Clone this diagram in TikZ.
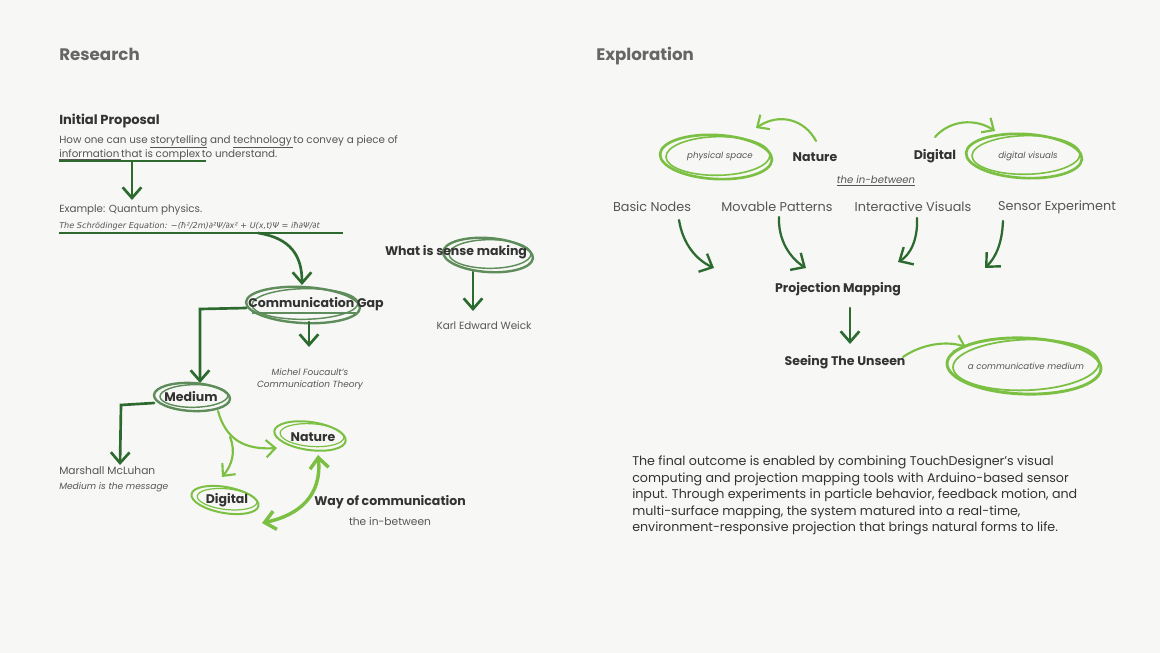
\documentclass[tikz,border=0pt]{standalone}
\usepackage{fontspec}
\setmainfont{Poppins}
\newfontfamily\eqfont{DejaVu Sans}
\usetikzlibrary{arrows.meta}
\definecolor{bg}{HTML}{F7F7F5}
\definecolor{dg}{HTML}{2D6A2F}
\definecolor{mg}{HTML}{5E8C5A}
\definecolor{lg}{HTML}{7CC043}
\definecolor{head}{HTML}{666666}
\definecolor{txt}{HTML}{333333}
\definecolor{sub}{HTML}{555555}
\newcommand\skell[7]{%
  \draw[#1, line width=#7, rotate around={#6:(#2,#3)}] (#2,#3) ellipse [x radius=#4*0.75pt, y radius=#5*0.75pt];
  \draw[#1, line width=0.6*#7, rotate around={#6+4:(#2,#3)}] (#2+2,#3-1) ellipse [x radius=#4*0.75pt-3pt, y radius=#5*0.75pt-2pt];
}
\tikzset{
  x=0.75pt, y=-0.75pt,
  heading/.style={anchor=base west, inner sep=0, text=head, font=\bfseries\fontsize{12.5}{14}\selectfont},
  boldlab/.style={inner sep=0, text=txt, font=\bfseries\fontsize{9.4}{11}\selectfont},
  body/.style={anchor=base west, inner sep=0, text=sub, font=\fontsize{7.75}{9}\selectfont},
  small/.style={inner sep=0, text=sub, font=\itshape\fontsize{6.5}{8}\selectfont},
  rowlab/.style={inner sep=0, text=sub, font=\fontsize{9.6}{11}\selectfont},
  para/.style={anchor=base west, inner sep=0, text=txt, font=\fontsize{9.5}{11}\selectfont},
  darr/.style={draw=dg, line width=2pt, line cap=round, -{Straight Barb[length=8pt,width=14pt,line width=2pt]}},
  darrt/.style={draw=dg, line width=1.7pt, line cap=round, -{Straight Barb[length=8pt,width=15pt,line width=1.8pt]}},
  larr/.style={draw=lg, line width=1.6pt, line cap=round, -{Straight Barb[length=7pt,width=13pt,line width=1.6pt]}},
  dline/.style={draw=dg, line width=1.5pt},
}
\begin{document}
\begin{tikzpicture}
\fill[bg] (0,0) rectangle (1160,653);
\useasboundingbox (0,0) rectangle (1160,653);

% headings
\node[heading] (research) at (59,60) {Research};
\node[heading] (explor) at (596,60) {Exploration};

% proposal
\node[boldlab, anchor=west, font=\bfseries\fontsize{9.8}{11}\selectfont] (ip) at (59,121) {Initial Proposal};
\node[body] (prop1) at (59,143) {How one can use \underline{storytelling} and \underline{technology\,}to convey a piece of};
\node[body] (prop2) at (59,157) {\underline{information\,}that is \underline{complex\,}to understand.};
\coordinate (u1a) at (59,161); \coordinate (u1b) at (206,161);
\draw[dline] (u1a) -- (u1b);
\coordinate (a1s) at (132,162); \coordinate (a1e) at (132,200);
\draw[darr] (a1s) -- (a1e);
\node[body] (ex) at (59,212.5) {Example: Quantum physics.};
\node[body, font=\eqfont\itshape\fontsize{6.1}{8}\selectfont] (eq) at (59,228) {The Schrödinger Equation: −(ħ²/2m)∂²Ψ/∂x² + U(x,t)Ψ = iħ∂Ψ/∂t};
\coordinate (u2a) at (59,233); \coordinate (u2b) at (343,233);
\draw[dline] (u2a) -- (u2b);
\coordinate (a2s) at (258,233); \coordinate (a2e) at (302,285);
\draw[darr] (a2s) .. controls (290,238) and (302,255) .. (a2e);

% communication gap
\skell{mg}{303}{305}{57}{18}{-3}{1.8pt}
\node[boldlab] (cg) at (316,304) {Communication Gap};
\coordinate (u3a) at (252,313); \coordinate (u3b) at (356,313);
\draw[mg, line width=1.2pt] (u3a) -- (u3b);
\coordinate (cgl) at (246,308); \coordinate (mdt) at (200,383);
\draw[darr] (cgl) -- (200,309) -- (mdt);
\coordinate (cgb) at (309,322); \coordinate (mft) at (309,347);
\draw[darr] (cgb) -- (mft);
\node[small, align=center, font=\itshape\fontsize{6.7}{9}\selectfont] (mf) at (310,379) {Michel Foucault's\\Communication Theory};

% sense making
\skell{mg}{488}{255}{45}{17}{-4}{1.8pt}
\node[boldlab] (sm) at (456,252) {What is sense making};
\coordinate (smb) at (473,272); \coordinate (kwt) at (473,311);
\draw[darr] (smb) -- (kwt);
\node[rowlab, font=\fontsize{7.8}{9}\selectfont] (kw) at (484,326) {Karl Edward Weick};

% medium
\skell{mg}{192}{397}{38}{14}{-3}{1.8pt}
\node[boldlab] (md) at (191,397) {Medium};
\coordinate (mdl) at (154,403); \coordinate (mmt) at (120,465);
\draw[darr] (mdl) -- (121,405) -- (mmt);
\node[body, font=\fontsize{8}{9}\selectfont] (mm) at (59,474) {Marshall McLuhan};
\node[small, anchor=base west, font=\itshape\fontsize{6.8}{8}\selectfont] (mmq) at (59,489) {Medium is the message};

% nature / digital (left)
\skell{lg}{310}{436}{36}{14}{-8}{1.5pt}
\node[boldlab] (nl) at (313,437) {Nature};
\skell{lg}{225}{500}{34}{13}{-10}{1.5pt}
\node[boldlab] (dl) at (227,500) {Digital};
\coordinate (mdb) at (218,411); \coordinate (nll) at (277,448);
\draw[larr] (mdb) .. controls (226,440) and (245,450) .. (nll);
\coordinate (br) at (230,437); \coordinate (dlt) at (222,477);
\draw[larr] (br) .. controls (236,452) and (232,465) .. (dlt);
\coordinate (nlb) at (318,455); \coordinate (dlr) at (262,523);
\draw[draw=lg, line width=2.6pt, {Straight Barb[length=8pt,width=14pt,line width=2.6pt]}-{Straight Barb[length=8pt,width=14pt,line width=2.6pt]}] (nlb) .. controls (322,495) and (300,515) .. (dlr);
\node[boldlab] (woc) at (390,502) {Way of communication};
\node[rowlab, font=\fontsize{8}{9}\selectfont] (ib) at (390,521) {the in-between};

% exploration top
\skell{lg}{716}{157}{56}{22}{-3}{2pt}
\node[small] (ps) at (720,156) {physical space};
\node[boldlab] (nr) at (815,157) {Nature};
\coordinate (nrt) at (816,141); \coordinate (pst) at (756,128);
\draw[larr] (nrt) .. controls (805,120) and (780,112) .. (pst);
\node[boldlab] (dr) at (935,156) {Digital};
\coordinate (drt) at (935,137); \coordinate (dvt) at (995,131);
\draw[larr] (drt) .. controls (950,120) and (975,118) .. (dvt);
\skell{lg}{1024}{156}{58}{22}{-3}{2pt}
\node[small] (dv) at (1028,156) {digital visuals};
\node[small, font=\itshape\fontsize{7.6}{9}\selectfont] (ibr) at (876,181) {\underline{the in-between}};

% row
\node[rowlab] (bn) at (652,207) {Basic Nodes};
\node[rowlab] (mp) at (777,207) {Movable Patterns};
\node[rowlab] (iv) at (913,207) {Interactive Visuals};
\node[rowlab] (se) at (1057,207) {Sensor Experiment};
\coordinate (bnb) at (679,220); \coordinate (pm1) at (714,268);
\coordinate (mpb) at (779,217); \coordinate (pm2) at (806,268);
\coordinate (ivb) at (917,218); \coordinate (pm3) at (898,262);
\coordinate (seb) at (1003,221); \coordinate (pm4) at (985,268);
\draw[darrt] (bnb) .. controls (683,245) and (697,260) .. (pm1);
\draw[darrt] (mpb) .. controls (778,240) and (790,258) .. (pm2);
\draw[darrt] (ivb) .. controls (918,240) and (910,255) .. (pm3);
\draw[darrt] (seb) .. controls (1002,245) and (995,258) .. (pm4);

\node[boldlab] (pm) at (838,289) {Projection Mapping};
\coordinate (pmb) at (850,308); \coordinate (stt) at (850,344);
\draw[darr] (pmb) -- (stt);
\node[boldlab] (st) at (845,362) {Seeing The Unseen};
\coordinate (str) at (903,357); \coordinate (cmt) at (966,347);
\draw[larr] (str) .. controls (920,345) and (945,340) .. (cmt);
\skell{lg}{1024}{366}{77}{28}{-2}{2.2pt}
\node[small] (cm) at (1026,366) {a communicative medium};

% paragraph
\node[para] (p1) at (632,465) {The final outcome is enabled by combining TouchDesigner’s visual};
\node[para] (p2) at (632,482) {computing and projection mapping tools with Arduino-based sensor};
\node[para] (p3) at (632,498) {input. Through experiments in particle behavior, feedback motion, and};
\node[para] (p4) at (632,515) {multi-surface mapping, the system matured into a real-time,};
\node[para] (p5) at (632,531) {environment-responsive projection that brings natural forms to life.};
\end{tikzpicture}
\end{document}
